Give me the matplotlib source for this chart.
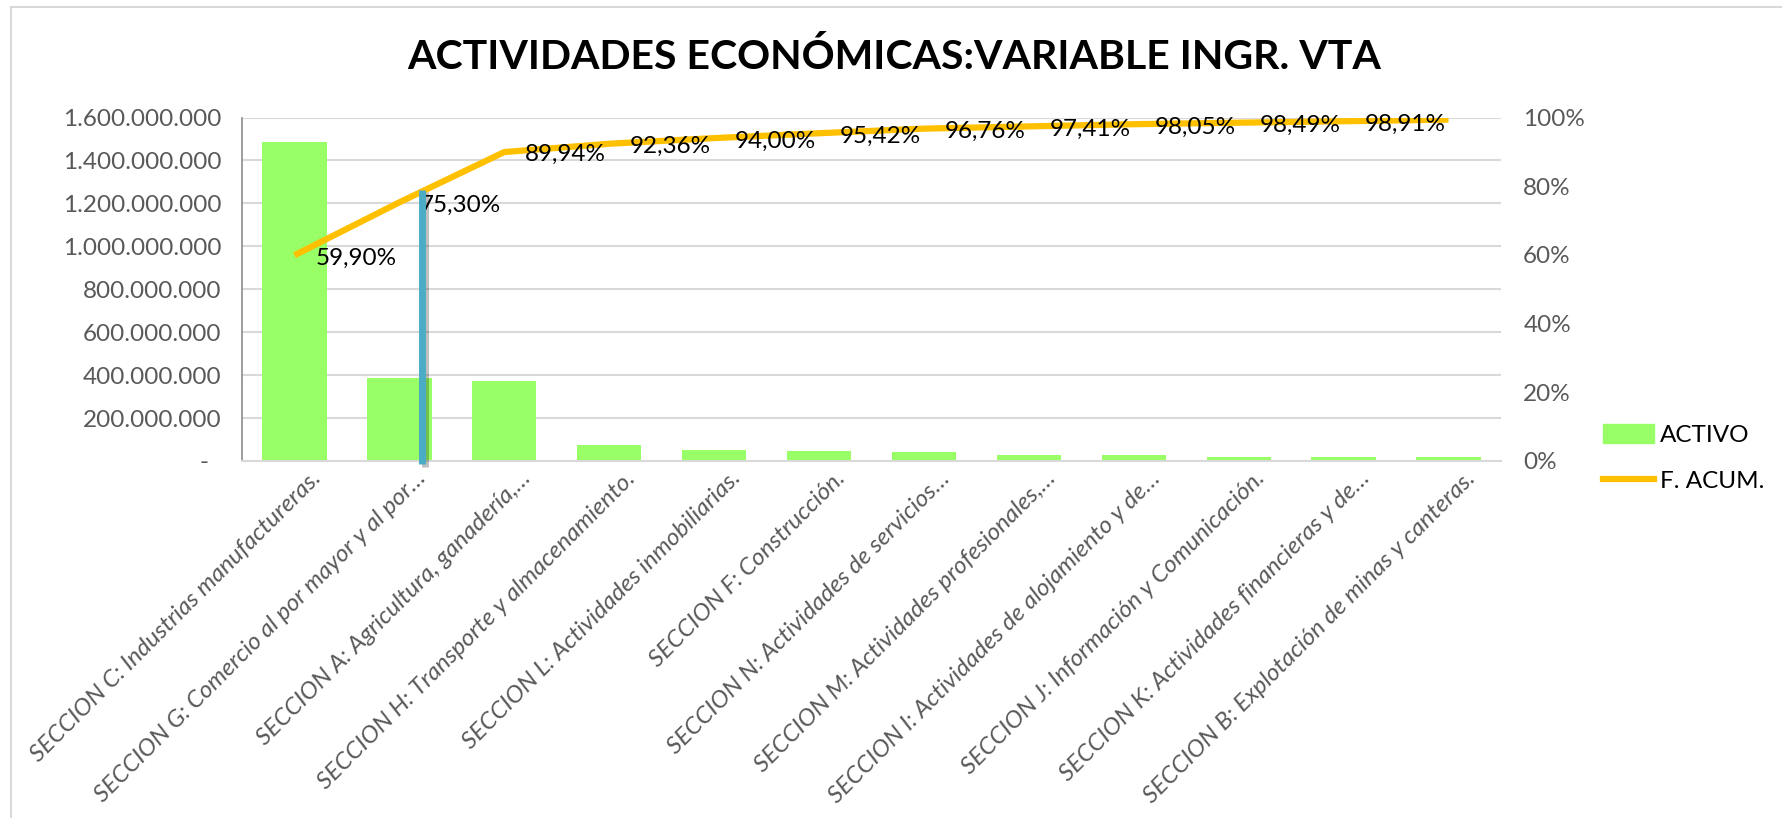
import matplotlib
matplotlib.use("Agg")
import matplotlib.pyplot as plt
import matplotlib.patheffects as pe
from matplotlib.transforms import ScaledTranslation
from matplotlib.lines import Line2D
from matplotlib.patches import Patch

# data
categories = [
    "SECCION C: Industrias manufactureras.",
    "SECCION G: Comercio al por mayor y al por…",
    "SECCION A: Agricultura, ganadería,…",
    "SECCION H: Transporte y almacenamiento.",
    "SECCION L: Actividades inmobiliarias.",
    "SECCION F: Construcción.",
    "SECCION N: Actividades de servicios…",
    "SECCION M: Actividades profesionales,…",
    "SECCION I: Actividades de alojamiento y de…",
    "SECCION J: Información y Comunicación.",
    "SECCION K: Actividades financieras y de…",
    "SECCION B: Explotación de minas y canteras.",
]
activo = [1488e6, 388e6, 373e6, 73e6, 51e6, 47e6, 44e6, 28e6, 28e6, 20e6, 20e6, 20e6]
f_acum = [59.90, 75.30, 89.94, 92.36, 94.00, 95.42, 96.76, 97.41, 98.05, 98.49, 98.91, 99.40]
n_labelled = 11  # last point has no label in the original
left_ticks = [0, 200e6, 400e6, 600e6, 800e6, 1000e6, 1200e6, 1400e6, 1600e6]
right_ticks = [0, 20, 40, 60, 80, 100]
cutoff_pos = 1.22   # position of the blue 80% marker line
cutoff_pct = 79.0

GREEN = "#99FF66"
ORANGE = "#FFC000"
BLUE = "#4BACC6"
GRAY = "#595959"
GRID = "#D9D9D9"

plt.rcParams["font.family"] = ["Lato", "DejaVu Sans"]

W, H = 1783, 818
fig = plt.figure(figsize=(W / 100, H / 100), dpi=100)
fig.patch.set_facecolor("white")

# chart area border (top and left edges visible)
fig.add_artist(Line2D([11 / W, 1.0], [1 - 7 / H, 1 - 7 / H], color=GRID, lw=1.5))
fig.add_artist(Line2D([11 / W, 11 / W], [0, 1 - 7 / H], color=GRID, lw=1.5))

ax = fig.add_axes([242 / W, 1 - 461 / H, (1501 - 242) / W, (461 - 117.5) / H])
ax2 = ax.twinx()

x = list(range(len(categories)))
ax.bar(x, activo, width=0.613, color=GREEN, zorder=2)
ax.set_xlim(-0.5, len(categories) - 0.5)
ax.set_ylim(0, 1.6e9)
ax.set_yticks(left_ticks)
ax.set_yticklabels(["-  " if v == 0 else f"{int(v):,}".replace(",", ".") for v in left_ticks])
ax.grid(axis="y", color=GRID, lw=1.5, zorder=0)
ax.set_axisbelow(True)
ax.tick_params(axis="y", length=0, pad=15, labelsize=17.5, labelcolor=GRAY)
ax.tick_params(axis="x", length=0, pad=10)
for s in ["top", "right"]:
    ax.spines[s].set_visible(False)
ax.spines["bottom"].set_color(GRID)
ax.spines["bottom"].set_linewidth(1.5)
ax.spines["left"].set_color("#8C8C8C")
ax.spines["left"].set_linewidth(1.2)

ax.set_xticks(x)
ax.set_xticklabels(categories, rotation=45, ha="right", va="center",
                   rotation_mode="anchor", fontsize=17.5, color=GRAY, style="italic")
offset = ScaledTranslation(23 / 100, 0, fig.dpi_scale_trans)
for lbl in ax.get_xticklabels():
    lbl.set_transform(lbl.get_transform() + offset)

# cumulative line on secondary axis
ax2.plot(x, f_acum, color=ORANGE, lw=4.5, solid_capstyle="butt", zorder=3)
ax2.set_ylim(0, 100)
ax2.set_yticks(right_ticks)
ax2.set_yticklabels([f"{v}%" for v in right_ticks])
ax2.tick_params(axis="y", length=0, pad=16, labelsize=17.5, labelcolor=GRAY)
for s in ["top", "right", "left", "bottom"]:
    ax2.spines[s].set_visible(False)

for i in range(n_labelled):
    ax2.annotate(f"{f_acum[i]:.2f}%".replace(".", ","), (x[i], f_acum[i]),
                 xytext=(15, -2), textcoords="offset points",
                 ha="left", va="center", fontsize=17.5, color="black", zorder=4)

ax2.plot([cutoff_pos, cutoff_pos], [-1, cutoff_pct], color=BLUE, lw=5,
         solid_capstyle="butt", clip_on=False, zorder=5,
         path_effects=[pe.SimpleLineShadow(offset=(1.5, -1.5), alpha=0.25), pe.Normal()])

fig.text(894 / W, 1 - 57 / H, "ACTIVIDADES ECONÓMICAS:VARIABLE INGR. VTA",
         ha="center", va="center", fontsize=29.5, fontweight="bold", color="black")

handles = [Patch(color=GREEN), Line2D([0], [0], color=ORANGE, lw=4.5)]
fig.legend(handles, ["ACTIVO", "F. ACUM."], loc="upper left",
           bbox_to_anchor=(1603 / W, 1 - 424 / H), frameon=False, fontsize=17.5,
           handlelength=2.1, handleheight=0.8, handletextpad=0.25,
           labelspacing=1.0, borderpad=0, borderaxespad=0)

fig.savefig("out.png", dpi=100, facecolor="white")
